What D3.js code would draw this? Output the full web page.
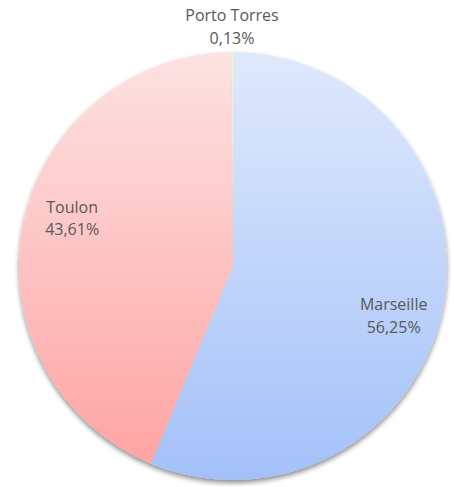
<!DOCTYPE html>
<html lang="en">
<head>
  <meta charset="UTF-8" />
  <title>pie chart</title>
  <script src="https://d3js.org/d3.v7.min.js" charset="utf-8"></script>
  <style>
    body { margin: 0; background: #fff; }
    text { font-family: "Open Sans", Lato, sans-serif; fill: #595959; }
  </style>
</head>
<body>
<script type="text/javascript">

const WIDTH = 454;
const HEIGHT = 487;

// data
const ports = ["Marseille", "Toulon", "Porto Torres"];
const shares = [56.25, 43.61, 0.13];
const shareLabels = ["56,25%", "43,61%", "0,13%"];

const CX = 233, CY = 266, R = 214;
const GRAD = {
  "Marseille": ["#dfe9fc", "#a3c1f9"],
  "Toulon": ["#fde2e2", "#fea2a1"],
  "Porto Torres": ["#fbf3cf", "#e6d77a"]
};

const data = ports.map((p, i) => ({port: p, value: shares[i], label: shareLabels[i]}));

const svg = d3.select("body")
  .append("svg")
    .attr("width", WIDTH)
    .attr("height", HEIGHT);

const defs = svg.append("defs");
ports.forEach((p, i) => {
  const g = defs.append("linearGradient")
      .attr("id", "grad" + i)
      .attr("gradientUnits", "userSpaceOnUse")
      .attr("x1", 0).attr("y1", -R)
      .attr("x2", 0).attr("y2", R);
  g.append("stop").attr("offset", "0%").attr("stop-color", GRAD[p][0]);
  g.append("stop").attr("offset", "100%").attr("stop-color", GRAD[p][1]);
});

const shadow = defs.append("filter")
    .attr("id", "shadow")
    .attr("x", "-10%").attr("y", "-10%")
    .attr("width", "120%").attr("height", "120%");
shadow.append("feGaussianBlur").attr("in", "SourceAlpha").attr("stdDeviation", 2.5);
shadow.append("feOffset").attr("dx", 0).attr("dy", 2.5).attr("result", "off");
shadow.append("feComponentTransfer").append("feFuncA").attr("type", "linear").attr("slope", 0.45);
const merge = shadow.append("feMerge");
merge.append("feMergeNode");
merge.append("feMergeNode").attr("in", "SourceGraphic");

const pie = d3.pie()
  .value(d => d.value)
  .sort(null);

const arc = d3.arc()
  .innerRadius(0)
  .outerRadius(R);

const arcs = pie(data);

const g = svg.append("g")
    .attr("transform", `translate(${CX},${CY})`);

g.append("g")
    .attr("filter", "url(#shadow)")
  .selectAll("path")
  .data(arcs)
  .join("path")
    .attr("d", arc)
    .attr("fill", (d, i) => `url(#grad${i})`);

// labels: big slices inside, tiny slice above the pie
const outer = d3.arc().innerRadius(R + 26).outerRadius(R + 26);

const labels = g.append("g")
  .selectAll("text")
  .data(arcs)
  .join("text")
    .attr("text-anchor", "middle")
    .attr("font-size", "16px")
    .attr("transform", d => {
      let c;
      if (d.endAngle - d.startAngle < 0.2) {
        c = outer.centroid(d);
      } else {
        const a = (d.startAngle + d.endAngle) / 2 + 0.1;
        c = [Math.sin(a) * 168, -Math.cos(a) * 168];
      }
      return `translate(${c[0]},${c[1]})`;
    });
labels.append("tspan")
    .attr("x", 0)
    .attr("dy", "-0.3em")
    .text(d => d.data.port);
labels.append("tspan")
    .attr("x", 0)
    .attr("dy", "1.42em")
    .text(d => d.data.label);

</script>
</body>
</html>
